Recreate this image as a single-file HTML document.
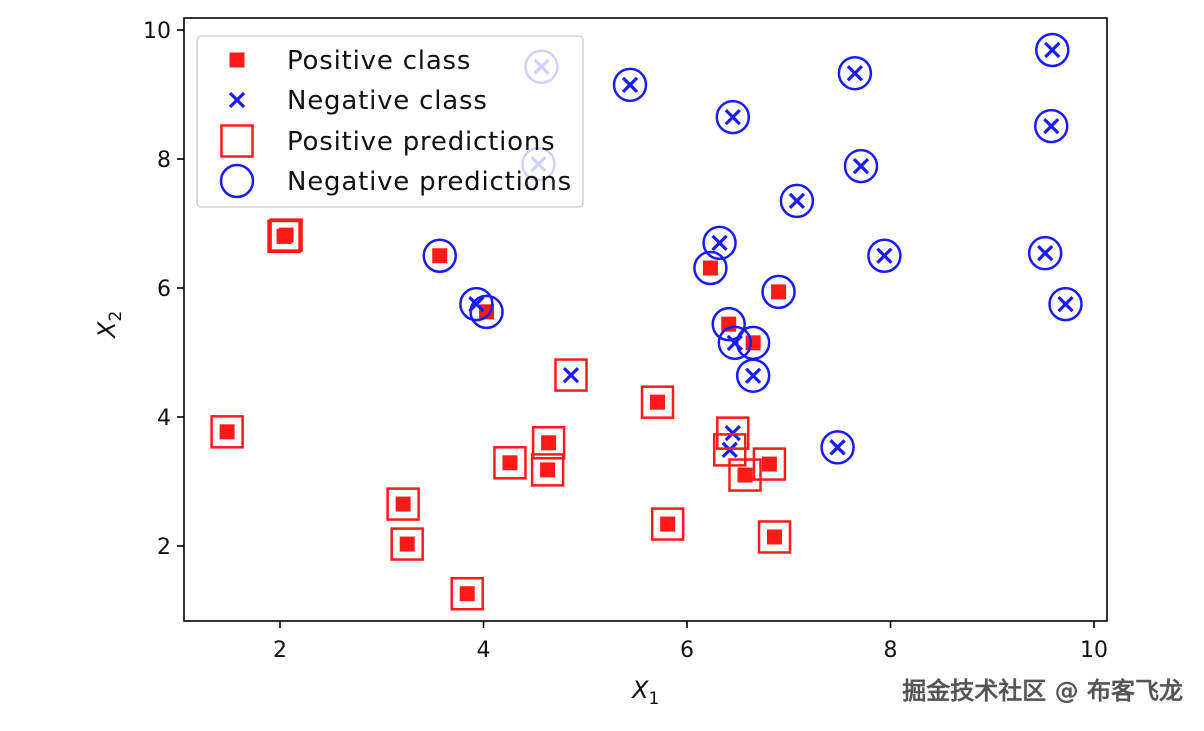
<!DOCTYPE html>
<html><head><meta charset="utf-8">
<style>
body{margin:0;background:#fff;}
svg text{font-family:"DejaVu Sans","Liberation Sans",sans-serif;}
</style></head>
<body>
<svg id="chart" width="1204" height="726" xmlns="http://www.w3.org/2000/svg">
<rect width="1204" height="726" fill="#fff"/>
<g id="marks"></g>
<g id="axes"></g>
</svg>
<script>
// positive class points (x, y, predicted label)
const posX = [1.48,2.04,2.06,3.57,4.03,3.21,3.25,3.84,4.26,4.64,4.63,5.71,5.81,6.23,6.41,6.65,6.90,6.57,6.81,6.86];
const posY = [3.77,6.80,6.82,6.50,5.63,2.65,2.03,1.26,3.29,3.60,3.18,4.23,2.34,6.31,5.44,5.15,5.94,3.10,3.27,2.14];
const posPred = ['P','P','P','N','N','P','P','P','P','P','P','P','P','N','N','N','N','P','P','P'];
// negative class points
const negX = [4.57,4.54,5.44,6.45,7.65,9.59,9.58,7.71,7.08,6.32,7.94,9.52,9.72,3.93,4.86,6.47,6.65,7.48,6.45,6.42];
const negY = [9.43,7.92,9.15,8.65,9.33,9.69,8.51,7.89,7.35,6.70,6.50,6.54,5.75,5.75,4.65,5.15,4.64,3.53,3.75,3.49];
const negPred = ['N','N','N','N','N','N','N','N','N','N','N','N','N','N','P','N','N','N','P','P'];
const xTicks = [2,4,6,8,10];
const yTicks = [2,4,6,8,10];
const legendLabels = ['Positive class','Negative class','Positive predictions','Negative predictions'];

const L=184,R=1107,T=18,B=621;
const sx=v=>76.5+v*101.75;
const sy=v=>675-v*64.5;
const NS='http://www.w3.org/2000/svg';
function mk(tag,attrs,parent){const e=document.createElementNS(NS,tag);for(const k in attrs)e.setAttribute(k,attrs[k]);parent.appendChild(e);return e;}
const marks=document.getElementById('marks'), axes=document.getElementById('axes');
const RED='#ff1a1a', BLUE='#1a1aff';

function filledSq(cx,cy,p){const e=mk('rect',{x:cx-7.5,y:cy-7.5,width:15,height:15,fill:RED},p);

}
function cross(cx,cy,p){const g=mk('g',{stroke:BLUE,'stroke-width':3.2},p);
mk('line',{x1:cx-7,y1:cy-7,x2:cx+7,y2:cy+7},g);mk('line',{x1:cx-7,y1:cy+7,x2:cx+7,y2:cy-7},g);

}
function predSq(cx,cy,p){const e=mk('rect',{x:cx-15.5,y:cy-15.5,width:31,height:31,fill:'none',stroke:RED,'stroke-width':2.5},p);

}
function predCi(cx,cy,p){const e=mk('circle',{cx:cx,cy:cy,r:16,fill:'none',stroke:BLUE,'stroke-width':2.5},p);

}

posX.forEach((v,i)=>filledSq(sx(v),sy(posY[i]),marks));
negX.forEach((v,i)=>cross(sx(v),sy(negY[i]),marks));
posX.forEach((v,i)=>{if(posPred[i]==='P')predSq(sx(v),sy(posY[i]),marks);});
negX.forEach((v,i)=>{if(negPred[i]==='P')predSq(sx(v),sy(negY[i]),marks);});
posX.forEach((v,i)=>{if(posPred[i]==='N')predCi(sx(v),sy(posY[i]),marks);});
negX.forEach((v,i)=>{if(negPred[i]==='N')predCi(sx(v),sy(negY[i]),marks);});

// frame
const fr=mk('rect',{x:L,y:T,width:R-L,height:B-T,fill:'none',stroke:'#000','stroke-width':1.6},axes);


xTicks.forEach(t=>{const x=sx(t);
mk('line',{x1:x,y1:B,x2:x,y2:B+7,stroke:'#000','stroke-width':1.6},axes);
const tx=mk('text',{x:x,y:B+36,'text-anchor':'middle','font-size':22,fill:'#111'},axes);tx.textContent=t;

});
yTicks.forEach(t=>{const y=sy(t);
mk('line',{x1:L-7,y1:y,x2:L,y2:y,stroke:'#000','stroke-width':1.6},axes);
const tx=mk('text',{x:L-13,y:y+8,'text-anchor':'end','font-size':22,fill:'#111'},axes);tx.textContent=t;

});

// legend
const lg=mk('g',{},axes);


mk('rect',{x:197,y:36,width:386,height:171,rx:4,fill:'#fff','fill-opacity':0.8,stroke:'#d0d0d0','stroke-width':1.5},lg);
const rows=[60,100,141,181];
filledSq(237,rows[0],lg);cross(237,rows[1],lg);predSq(237,rows[2],lg);predCi(237,rows[3],lg);
legendLabels.forEach((s,i)=>{const t=mk('text',{x:287,y:rows[i]+9,'font-size':26,'letter-spacing':0.8,fill:'#111'},lg);t.textContent=s;

});
</script>
<svg style="position:absolute;left:0;top:0" width="1204" height="726" xmlns="http://www.w3.org/2000/svg">
<text x="632" y="698" font-size="24" font-style="italic" font-family="DejaVu Sans, sans-serif" fill="#111">X<tspan font-size="17" dy="6" font-style="normal">1</tspan></text>
<text transform="translate(115,338) rotate(-90)" font-size="24" font-style="italic" font-family="DejaVu Sans, sans-serif" fill="#111">X<tspan font-size="17" dy="6" font-style="normal">2</tspan></text>
<text x="1183" y="699" text-anchor="end" font-size="24" font-weight="bold" font-family="Liberation Sans, Noto Sans CJK SC, sans-serif" fill="#555">掘金技术社区 @ 布客飞龙</text>
</svg>
</body></html>
